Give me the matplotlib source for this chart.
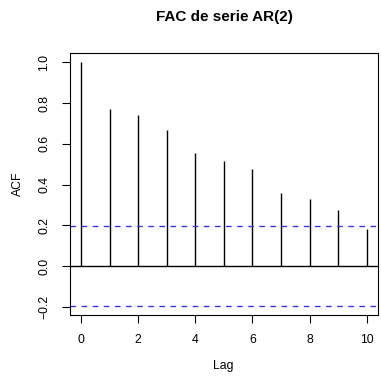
import matplotlib
matplotlib.use("Agg")
import matplotlib.pyplot as plt
import numpy as np

lags = [0, 1, 2, 3, 4, 5, 6, 7, 8, 9, 10]
acf_values = [1.0, 0.771, 0.743, 0.668, 0.553, 0.514, 0.478, 0.360, 0.327, 0.275, 0.180]
ci = 0.196
xticks = [0, 2, 4, 6, 8, 10]
yticks = [-0.2, 0.0, 0.2, 0.4, 0.6, 0.8, 1.0]

plt.rcParams['font.family'] = ['Liberation Sans', 'DejaVu Sans']

fig = plt.figure(figsize=(3.81, 3.83), dpi=100)
ax = fig.add_axes([69.5/381, 1-315/383, (377.5-69.5)/381, (315-52.7)/383])

ax.vlines(lags, 0, acf_values, color='black', linewidth=1.0)
ax.axhline(0, color='black', linewidth=1.0)
ax.axhline(ci, color='#3333ff', linestyle=(0, (4, 4)), linewidth=1.0)
ax.axhline(-ci, color='#3333ff', linestyle=(0, (4, 4)), linewidth=1.0)

ax.set_xlim(-0.4, 10.38)
ax.set_ylim(-0.24, 1.047)
ax.set_xticks(xticks)
ax.set_xticklabels([str(t) for t in xticks])
ax.set_yticks(yticks)
ax.set_yticklabels([f"{t:.1f}".replace('-', '\u2212') for t in yticks], rotation=90, va='center')
ax.tick_params(direction='out', length=6, width=0.8, labelsize=8.8, pad=8)
for s in ax.spines.values():
    s.set_linewidth(0.8)

ax.set_xlabel('Lag', fontsize=8.8, labelpad=10)
ax.set_ylabel('ACF', fontsize=8.8, labelpad=10)
fig.text(224/381, 1-16.5/383, 'FAC de serie AR(2)', ha='center', va='center', fontsize=11, fontweight='bold')

fig.savefig('out.png', dpi=100)
